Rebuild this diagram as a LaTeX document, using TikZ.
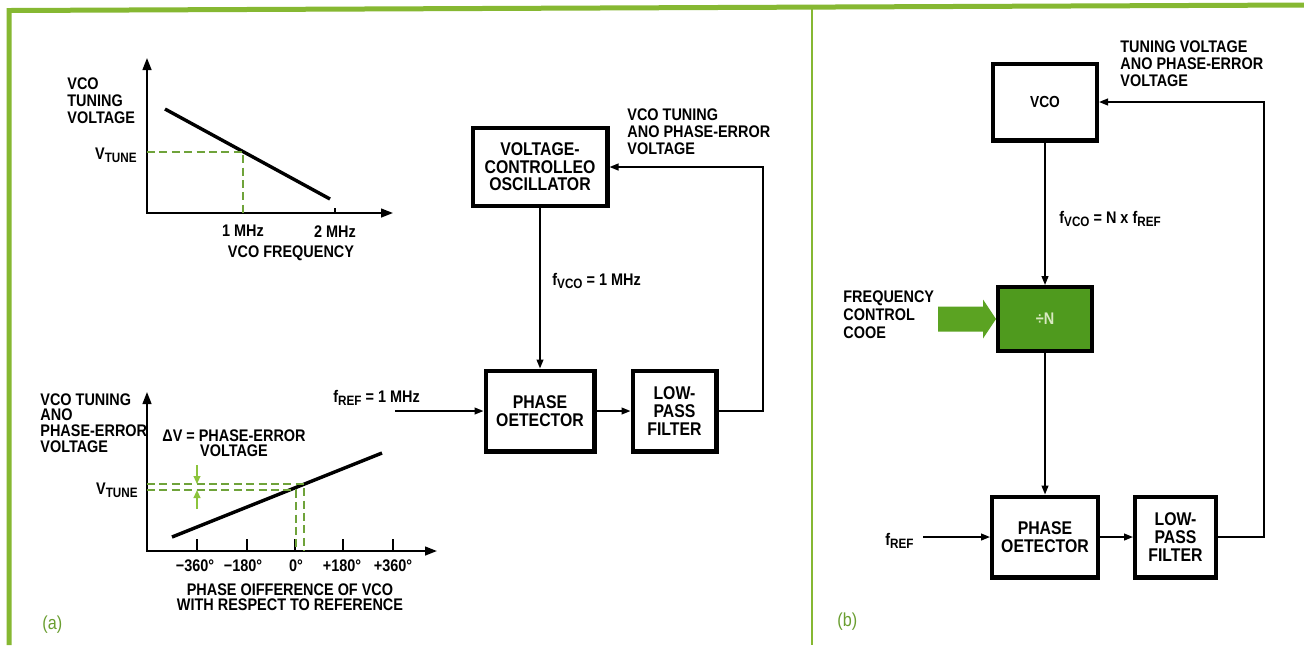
\documentclass[tikz,border=0pt]{standalone}
\usepackage{fontspec}
\setmainfont{Liberation Sans}[FakeStretch=0.86]
\usepackage{tikz}
\usetikzlibrary{arrows.meta,positioning}

\definecolor{framegreen}{HTML}{86B832}
\definecolor{dashgreen}{HTML}{6FA33A}
\definecolor{dvgreen}{HTML}{8CC43C}
\definecolor{divgreen}{HTML}{4F9A1E}
\definecolor{divtext}{HTML}{D9E9C2}
\definecolor{ctrlgreen}{HTML}{5BA322}
\definecolor{labgreen}{HTML}{6A9E30}

\newcommand{\lowsub}[1]{\raisebox{-1.6pt}{\fontsize{6.8}{6.8}\selectfont #1}}

\begin{document}
\begin{tikzpicture}[x=0.5pt, y=-0.5pt,
  every node/.style={font=\bfseries\fontsize{8.4}{8.4}\selectfont, inner sep=0pt},
  lbl/.style={align=left, font=\bfseries\fontsize{8.4}{8.6}\selectfont},
  box/.style={draw, line width=2.2pt, align=center, fill=white,
              font=\bfseries\fontsize{9.2}{8.8}\selectfont},
  greenbox/.style={box, fill=divgreen, text=divtext},
  arr/.style={-{Triangle[length=4.5pt,width=3.4pt]}, line width=0.85pt},
  wire/.style={line width=0.85pt},
  axis/.style={{Triangle[length=6pt,width=4.4pt]}-{Triangle[length=6pt,width=4.4pt]},
               line width=1pt},
  curve/.style={line width=1.7pt},
  guide/.style={dashgreen, dash pattern=on 4pt off 2.2pt, line width=0.8pt},
  dvarr/.style={dvgreen, -{Triangle[length=4pt,width=3.4pt]}, line width=0.8pt},
  frame/.style={framegreen, line width=2.5pt},
  tag/.style={text=labgreen, font=\fontsize{9.4}{9.4}\selectfont}
]
\fill[white] (0,0) rectangle (1304,645);
\useasboundingbox (0,0) rectangle (1304,645);

% frame
\draw[frame] (9,645) -- (9,10.5) -- (1304,5);
\draw[framegreen, line width=1.1pt] (812,8) -- (812,645);

% (a) upper plot
\draw[axis] (147,58) -- (147,213) -- (393,213);
\draw[curve] (165,109) -- (330,199);
\draw[guide] (147,152) -- (243,152) -- (243,213);
\draw[wire] (335,213) -- (335,208);
\node[lbl, anchor=north west] (vtuneax) at (67,77) {VCO\\TUNING\\VOLTAGE};
\node[anchor=base east] (vtune1) at (137,159) {V\lowsub{TUNE}};
\node[anchor=north] (f1) at (243,225) {1 MHz};
\node[anchor=north] (f2) at (335,225) {2 MHz};
\node[anchor=north] (fax) at (291,245) {VCO FREQUENCY};

% (a) lower plot
\draw[axis] (147,392) -- (147,551) -- (437,551);
\draw[curve] (172,537) -- (382,453);
\foreach \x in {197,247,295,343,393}
  \draw[wire] (\x,551) -- (\x,539);
\draw[guide] (147,484) -- (304,484) -- (304,551);
\draw[guide] (147,490) -- (296,490) -- (296,551);
\draw[dvarr] (197,465) -- (197,484);
\draw[dvarr] (197,509) -- (197,490);
\node[lbl, anchor=north west, font=\bfseries\fontsize{8.4}{7.9}\selectfont]
  (errax) at (40,393) {VCO TUNING\\ANO\\PHASE-ERROR\\VOLTAGE};
\node[align=center, anchor=north, font=\bfseries\fontsize{8.4}{7.6}\selectfont]
  (dv) at (234,429) {ΔV = PHASE-ERROR\\VOLTAGE};
\node[anchor=base east] (vtune2) at (138,494) {V\lowsub{TUNE}};
\node[anchor=north] (pm360) at (195,559) {−360°};
\node[anchor=north] (pm180) at (243,559) {−180°};
\node[anchor=north] (p0)    at (296,559) {0°};
\node[anchor=north] (pp180) at (342,559) {+180°};
\node[anchor=north] (pp360) at (393,559) {+360°};
\node[align=center, anchor=north, font=\bfseries\fontsize{8.4}{7.6}\selectfont]
  (phax) at (290,583) {PHASE OIFFERENCE OF VCO\\WITH RESPECT TO REFERENCE};
\node[tag, anchor=north west] (taga) at (42,615) {(a)};

% (a) loop
\node[box, minimum width=67.3pt, minimum height=38.8pt] (vcoA) at (540,167)
  {VOLTAGE-\\CONTROLLEO\\OSCILLATOR};
\node[box, minimum width=54.3pt, minimum height=40.3pt] (pdA) at (540,411)
  {PHASE\\OETECTOR};
\node[box, minimum width=41.8pt, minimum height=40.3pt, right=17pt of pdA] (lpfA)
  {LOW-\\PASS\\FILTER};
\coordinate (refA) at (395,411);
\coordinate (fbA) at (763,167);
\draw[arr] (vcoA) -- (pdA);
\draw[arr] (refA) -- (pdA);
\draw[arr] (pdA) -- (lpfA);
\draw[arr] (lpfA.east) -| (fbA) -- (vcoA.east);
\node[lbl, anchor=north west] (tuneA) at (627,108)
  {VCO TUNING\\ANO PHASE-ERROR\\VOLTAGE};
\node[anchor=base west] (fvcoA) at (552,285) {f\lowsub{VCO} = 1 MHz};
\node[anchor=base west] (frefA) at (333,402) {f\lowsub{REF} = 1 MHz};

% (b) loop
\node[box, minimum width=51.8pt, minimum height=38.3pt,
      font=\bfseries\fontsize{8}{8}\selectfont] (vcoB) at (1045,102) {VCO};
\node[greenbox, minimum width=46.8pt, minimum height=31.8pt,
      font=\bfseries\fontsize{8.4}{8.4}\selectfont] (divN) at (1045,319) {÷N};
\node[box, minimum width=52.8pt, minimum height=40.3pt] (pdB) at (1045,537)
  {PHASE\\OETECTOR};
\node[box, minimum width=40.3pt, minimum height=40.3pt, right=16.5pt of pdB] (lpfB)
  {LOW-\\PASS\\FILTER};
\coordinate (refB) at (923,537);
\coordinate (fbB) at (1264,102);
\draw[arr] (vcoB) -- (divN);
\draw[arr] (divN) -- (pdB);
\draw[arr] (refB) -- (pdB);
\draw[arr] (pdB) -- (lpfB);
\draw[arr] (lpfB.east) -| (fbB) -- (vcoB.east);
\coordinate (ctrltip) at (divN.west);
\fill[ctrlgreen] (ctrltip) -- ++(-13,-19.5) -- ++(0,7) -- ++(-45,0) -- ++(0,25)
  -- ++(45,0) -- ++(0,7) -- cycle;
\node[lbl, anchor=north west] (tuneB) at (1120,40)
  {TUNING VOLTAGE\\ANO PHASE-ERROR\\VOLTAGE};
\node[anchor=base west] (fvcoB) at (1059,223) {f\lowsub{VCO} = N x f\lowsub{REF}};
\node[lbl, anchor=north west, font=\bfseries\fontsize{8.4}{9}\selectfont]
  (ctrl) at (843,290) {FREQUENCY\\CONTROL\\COOE};
\node[anchor=base west] (frefB) at (885,545) {f\lowsub{REF}};
\node[tag, anchor=north west] (tagb) at (837,612) {(b)};
\end{tikzpicture}
\end{document}
